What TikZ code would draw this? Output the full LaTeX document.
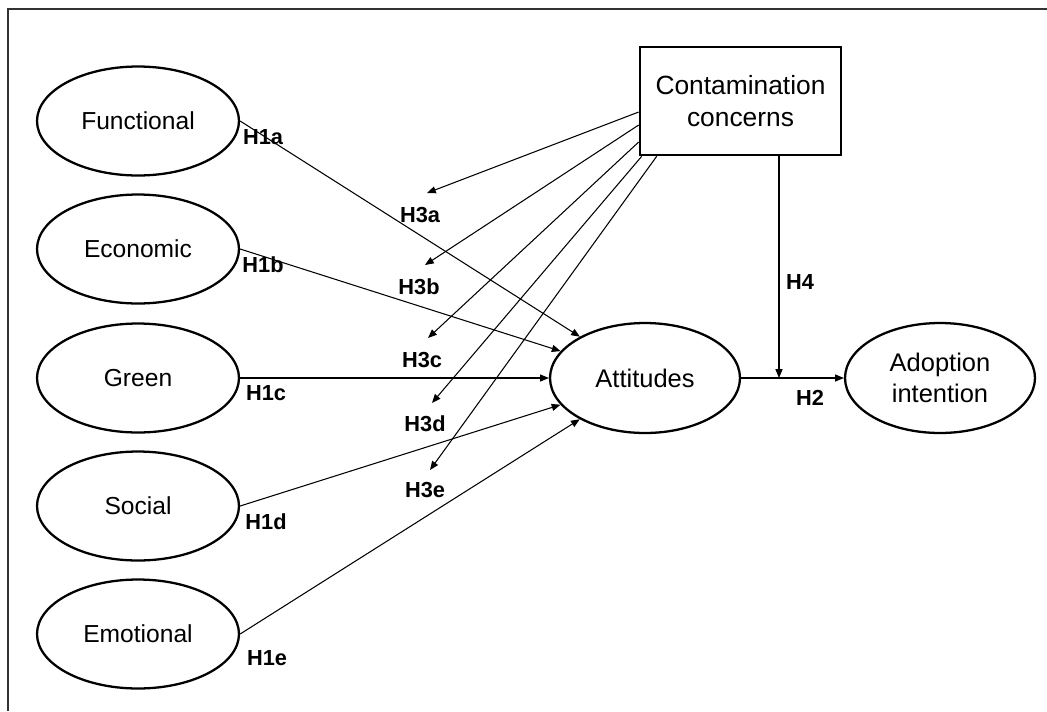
\documentclass[tikz,border=0pt]{standalone}
\usepackage{fontspec}
\setmainfont{Liberation Sans}
\usetikzlibrary{arrows.meta,shapes.geometric}

\begin{document}
\begin{tikzpicture}[x=0.02cm, y=-0.02cm,
  construct/.style={ellipse, draw, line width=1.3pt, inner sep=0pt,
    minimum width=4.04cm, minimum height=2.18cm, align=center,
    font=\fontsize{14}{18}\selectfont},
  outcome/.style={construct, minimum width=3.8cm, minimum height=2.2cm,
    font=\fontsize{14.5}{18}\selectfont},
  moderator/.style={rectangle, draw, line width=1.5pt, inner sep=0pt,
    minimum width=4.02cm, minimum height=2.16cm, align=center,
    font=\fontsize{15}{18}\selectfont},
  hyp/.style={font=\bfseries\fontsize{12.4}{14}\selectfont},
  path/.style={line width=0.6pt, -{Triangle[length=5pt, width=4pt]}}]
\useasboundingbox (0,0) rectangle (1047,711);
\draw[black!80, line width=0.8pt] (8,711)--(8,9)--(1047,9);
% constructs
\node[construct] (func) at (138,121) {Functional};
\node[construct] (econ) at (138,249) {Economic};
\node[construct] (green) at (138,378) {Green};
\node[construct] (social) at (138,506) {Social};
\node[construct] (emot) at (138,634) {Emotional};
\node[outcome] (att) at (645,378) {Attitudes};
\node[outcome] (adopt) at (940,378) {Adoption\\intention};
\node[moderator] (cc) at (740.5,101) {Contamination\\concerns};
% H1 paths
\draw[path] (func.east) -- (att);
\draw[path] (econ.east) -- (att);
\draw[path] (green.east) -- (att);
\draw[path] (social.east) -- (att);
\draw[path] (emot.east) -- (att);
% H3 paths
\coordinate (e3a) at (427,193);
\coordinate (e3b) at (425,265);
\coordinate (e3c) at (428,338);
\coordinate (e3d) at (432,403);
\coordinate (e3e) at (430,470);
\draw[path] ([yshift=-0.22cm]cc.west) -- (e3a);
\draw[path] ([yshift=-0.48cm]cc.west) -- (e3b);
\draw[path] ([yshift=-0.82cm]cc.west) -- (e3c);
\draw[path] ([xshift=0.06cm]cc.south west) -- (e3d);
\draw[path] ([xshift=0.36cm]cc.south west) -- (e3e);
% H2 and H4
\coordinate (j) at (779,378);
\draw[path] (att.east) -- (adopt.west);
\draw[path] (cc.south -| j) -- (j);
% labels
\node[hyp] (h1a) at (263,137) {H1a};
\node[hyp] (h1b) at (263,265) {H1b};
\node[hyp] (h1c) at (266,393) {H1c};
\node[hyp] (h1d) at (266,522) {H1d};
\node[hyp] (h1e) at (267,658) {H1e};
\node[hyp] (h3a) at (420,215) {H3a};
\node[hyp] (h3b) at (419,287) {H3b};
\node[hyp] (h3c) at (422,360) {H3c};
\node[hyp] (h3d) at (425,424) {H3d};
\node[hyp] (h3e) at (425,490) {H3e};
\node[hyp] (h4) at (800,282) {H4};
\node[hyp] (h2) at (810,398) {H2};
\end{tikzpicture}
\end{document}
